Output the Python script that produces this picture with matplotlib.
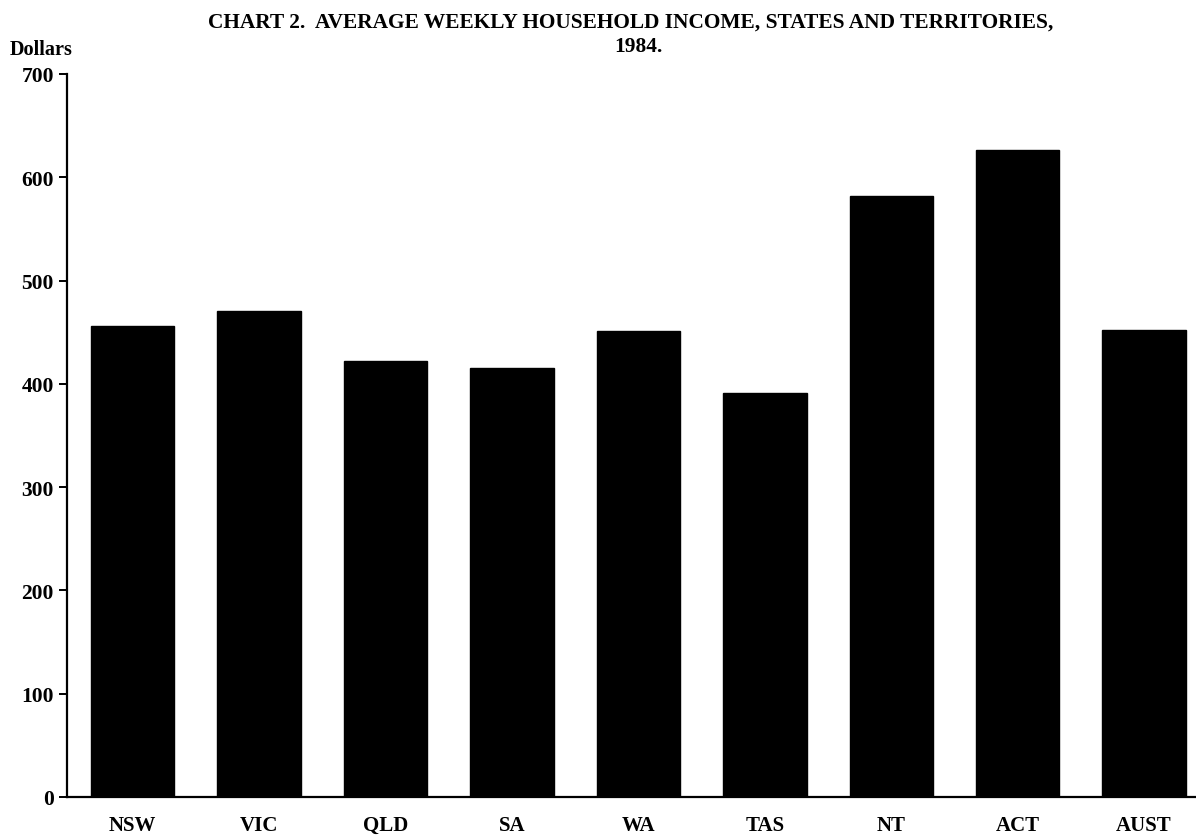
import matplotlib.pyplot as plt

# values
states = ["NSW", "VIC", "QLD", "SA", "WA", "TAS", "NT", "ACT", "AUST"]
income = [456, 471, 422, 415, 451, 391, 582, 626, 452]
yticks = [0, 100, 200, 300, 400, 500, 600, 700]

plt.rcParams['font.family'] = ['Liberation Serif', 'DejaVu Serif']
plt.rcParams['font.weight'] = 'bold'

fig = plt.figure(figsize=(11.96, 8.37), dpi=100)
ax = fig.add_axes([0.056, 0.0466, 0.944, 0.8638])

x = range(len(states))
ax.bar(x, income, width=0.66, color='black', edgecolor='black')

ax.set_ylim(0, 700)
ax.set_xlim(-0.52, 8.41)
ax.set_yticks(yticks)
ax.set_yticklabels([str(v) for v in yticks], fontsize=15.5, fontweight='bold')
ax.set_xticks(list(x))
ax.set_xticklabels(states, fontsize=15, fontweight='bold')

ax.spines['top'].set_visible(False)
ax.spines['right'].set_visible(False)
ax.spines['left'].set_linewidth(1.6)
ax.spines['bottom'].set_linewidth(1.6)
ax.tick_params(axis='y', direction='out', length=6, width=1.4, pad=3.5)
ax.tick_params(axis='x', length=0, pad=13)

fig.text(0.008, 0.940, "Dollars", fontsize=14.6, fontweight='bold', ha='left', va='center')
fig.text(0.174, 0.973, "CHART 2.  AVERAGE WEEKLY HOUSEHOLD INCOME, STATES AND TERRITORIES,",
         fontsize=15.4, fontweight='bold', ha='left', va='center')
fig.text(0.534, 0.944, "1984.", fontsize=15.4, fontweight='bold', ha='center', va='center')

fig.savefig("out.png", dpi=100)
